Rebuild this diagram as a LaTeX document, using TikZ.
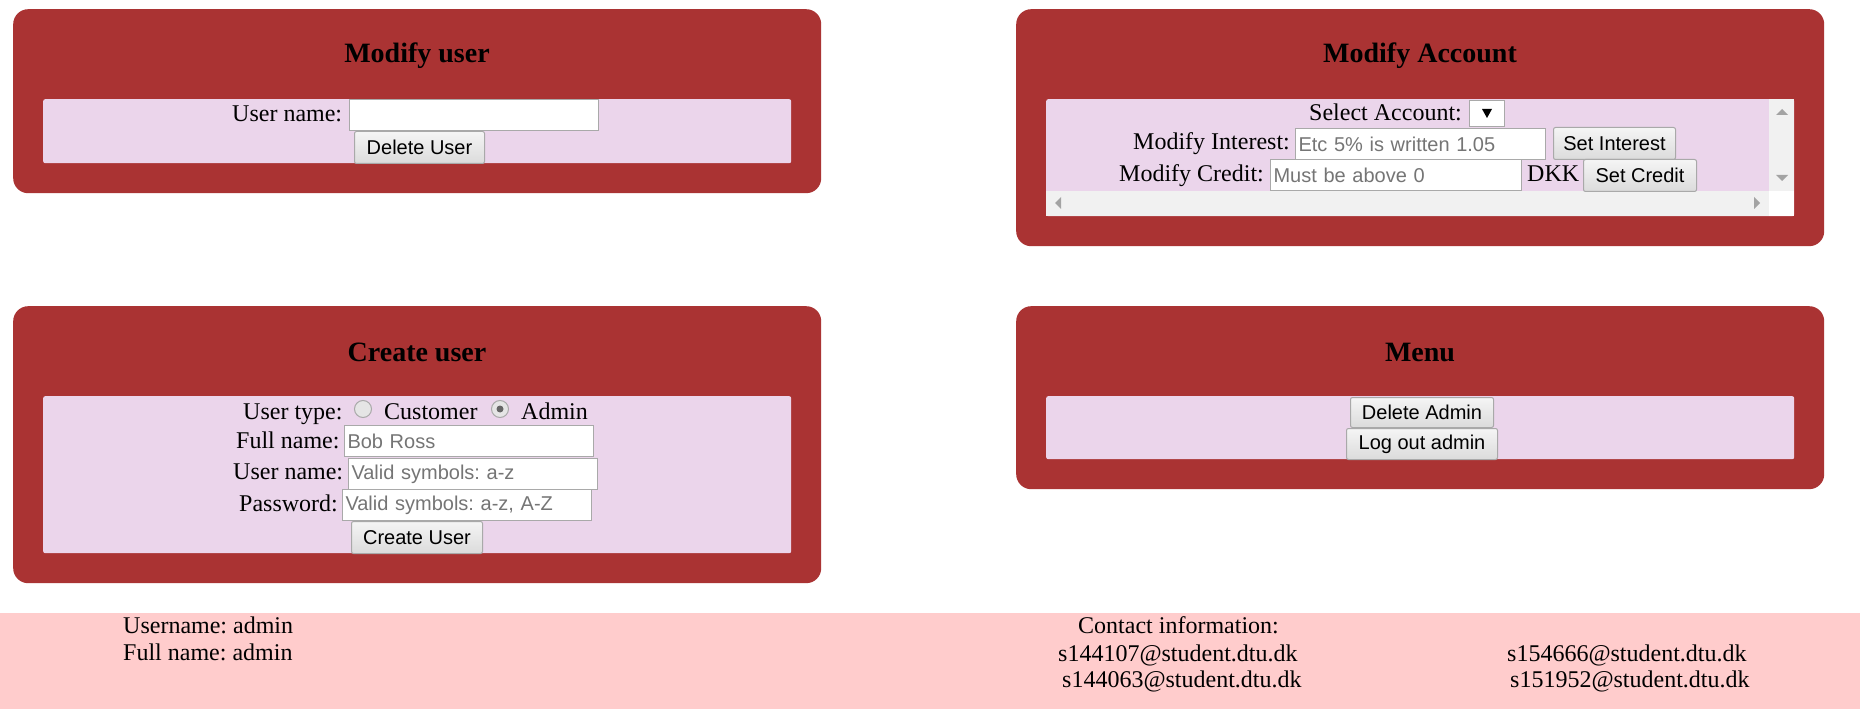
\documentclass[tikz,border=0pt]{standalone}
\usepackage{fontspec}
\setmainfont{Liberation Serif}
\newfontfamily\arialfont{Liberation Sans}
\frenchspacing
\usetikzlibrary{positioning}
\definecolor{panelred}{RGB}{170,51,51}
\definecolor{lavender}{RGB}{235,213,235}
\definecolor{footpink}{RGB}{255,204,204}
\definecolor{boxgray}{RGB}{169,169,169}
\definecolor{holdgray}{RGB}{117,117,117}
\definecolor{scrollbg}{RGB}{241,241,241}
\definecolor{arrowgray}{RGB}{163,163,163}
\tikzset{panel/.style={fill=panelred,rounded corners=15pt,inner sep=0pt,minimum width=808pt,anchor=north west}}
\tikzset{formarea/.style={fill=lavender,rounded corners=2pt,inner sep=0pt,minimum width=748pt,anchor=north west}}
\tikzset{heading/.style={font=\fontsize{28}{32}\selectfont\bfseries,anchor=base,inner sep=0pt}}
\tikzset{txt/.style={font=\fontsize{24}{28}\selectfont,anchor=base west,inner sep=0pt}}
\tikzset{inputbox/.style={draw=boxgray,fill=white,line width=1pt,anchor=north west,minimum height=31pt,text width=243pt,inner xsep=3pt,inner ysep=0pt,align=left,text=holdgray,font=\arialfont\fontsize{20}{24}\selectfont}}
\tikzset{button/.style={draw=boxgray,line width=1pt,rounded corners=2pt,top color=white!96!black,bottom color=white!86!black,anchor=north west,minimum height=32pt,inner sep=0pt,font=\arialfont\fontsize{20}{24}\selectfont}}
\tikzset{radio/.style={circle,draw=boxgray,fill=white!90!black,line width=1pt,minimum size=17pt,inner sep=0pt}}
\tikzset{scrollbar/.style={fill=scrollbg,inner sep=0pt,anchor=north west}}
\tikzset{scrollarrow/.style={fill=arrowgray}}
\begin{document}
\begin{tikzpicture}[x=1pt,y=-1pt]
  \useasboundingbox[fill=white] (0,0) rectangle (1860,719);

  % modify user
  \node[panel,minimum height=184pt] (moduser) at (13,9) {};
  \node[heading] (moduserhead) at (417,63) {Modify user};
  \node[formarea,minimum height=64pt] (moduserform) at (43,99) {};
  \node[txt] (modusername) at (232,122) {User name:};
  \node[inputbox] (modusernamein) at (349,99) {};
  \node[button,minimum width=130pt] (deluser) at (354,131) {Delete User};

  % modify account
  \node[panel,minimum height=237pt] (modacc) at (1016,9) {};
  \node[heading] (modacchead) at (1420,63) {Modify Account};
  \node[formarea,minimum height=117pt] (modaccform) at (1046,99) {};
  \node[scrollbar,minimum width=25pt,minimum height=92pt] (vscroll) at (1769,99) {};
  \node[scrollbar,minimum width=723pt,minimum height=25pt] (hscroll) at (1046,191) {};
  \node[scrollbar,fill=white,minimum width=25pt,minimum height=25pt] (scrollcorner) at (1769,191) {};
  \fill[scrollarrow] (1776,115) -- (1788,115) -- (1782,109) -- cycle;
  \fill[scrollarrow] (1776,175) -- (1788,175) -- (1782,181) -- cycle;
  \fill[scrollarrow] (1061,197) -- (1061,209) -- (1055,203) -- cycle;
  \fill[scrollarrow] (1754,197) -- (1754,209) -- (1760,203) -- cycle;
  \node[txt] (selacc) at (1309,121) {Select Account:};
  \node[draw=boxgray,fill=white,line width=1pt,anchor=north west,minimum width=35pt,minimum height=26pt,inner sep=0pt] (selbox) at (1469,100) {};
  \fill (1482,109) -- (1492,109) -- (1487,118) -- cycle;
  \node[txt] (interest) at (1133,150) {Modify Interest:};
  \node[inputbox,text width=244pt] (interestin) at (1295,128) {Etc 5\% is written 1.05};
  \node[button,minimum width=122pt] (setinterest) at (1553,127) {Set Interest};
  \node[txt] (credit) at (1119,182) {Modify Credit:};
  \node[inputbox,text width=245pt] (creditin) at (1270,159) {Must be above 0};
  \node[txt] (dkk) at (1527,182) {DKK};
  \node[button,minimum width=113pt] (setcredit) at (1583,159) {Set Credit};

  % create user
  \node[panel,minimum height=277pt] (newuser) at (13,306) {};
  \node[heading] (newuserhead) at (417,361) {Create user};
  \node[formarea,minimum height=157pt] (newuserform) at (43,396) {};
  \node[txt] (usertype) at (243,419) {User type:};
  \node[radio] (radiocust) at (363,409) {};
  \node[txt] (customer) at (384,419) {Customer};
  \node[radio] (radioadmin) at (500,409) {};
  \fill[black!60] (radioadmin.center) circle (3.5pt);
  \node[txt] (admin) at (521,419) {Admin};
  \node[txt] (fullname) at (236,448) {Full name:};
  \node[inputbox] (fullnamein) at (344,425) {Bob Ross};
  \node[txt] (newusername) at (233,479) {User name:};
  \node[inputbox] (newusernamein) at (348,458) {Valid symbols: a-z};
  \node[txt] (password) at (239,511) {Password:};
  \node[inputbox] (passwordin) at (342,489) {Valid symbols: a-z, A-Z};
  \node[button,minimum width=131pt] (createuser) at (351,521) {Create User};

  % menu
  \node[panel,minimum height=183pt] (menu) at (1016,306) {};
  \node[heading] (menuhead) at (1420,361) {Menu};
  \node[formarea,minimum height=63pt] (menuform) at (1046,396) {};
  \node[button,minimum width=143pt,minimum height=30pt] (deladmin) at (1350,397) {Delete Admin};
  \node[button,minimum width=151pt,minimum height=31pt] (logout) at (1346,428) {Log out admin};

  % footer
  \fill[footpink] (0,613) rectangle (1860,709);
  \node[txt] (footuser) at (123,633) {Username: admin};
  \node[txt] (footname) at (123,660) {Full name: admin};
  \node[txt] (contact) at (1078,633) {Contact information:};
  \node[txt] (mailone) at (1058,661) {s144107@student.dtu.dk};
  \node[txt] (mailtwo) at (1062,687) {s144063@student.dtu.dk};
  \node[txt] (mailthree) at (1507,661) {s154666@student.dtu.dk};
  \node[txt] (mailfour) at (1510,687) {s151952@student.dtu.dk};
\end{tikzpicture}
\end{document}
